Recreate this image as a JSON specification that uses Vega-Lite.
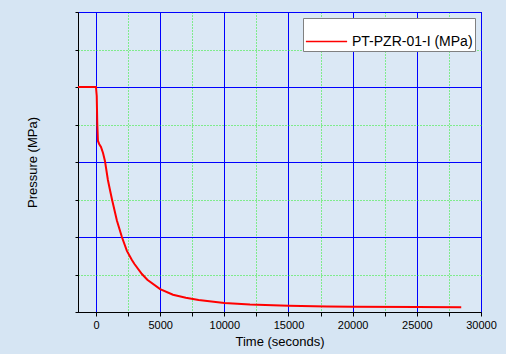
{
  "$schema": "https://vega.github.io/schema/vega-lite/v6.json",
  "width": 403,
  "height": 300,
  "autosize": {"type": "none"},
  "padding": {"left": 78, "top": 12, "right": 25, "bottom": 42},
  "background": "#d6e5f3",
  "config": {
    "view": {"fill": "#dbe8f5", "stroke": "#000000", "strokeWidth": 1},
    "font": "Liberation Sans"
  },
  "data": {
    "values": [
      {"t": -1400, "p": 15.0},
      {"t": 0, "p": 15.0},
      {"t": 60, "p": 14.4},
      {"t": 100, "p": 12.6},
      {"t": 155, "p": 11.4},
      {"t": 250, "p": 11.2},
      {"t": 390, "p": 11.0},
      {"t": 550, "p": 10.6},
      {"t": 700, "p": 10.07},
      {"t": 930, "p": 8.8},
      {"t": 1100, "p": 8.1},
      {"t": 1250, "p": 7.5},
      {"t": 1630, "p": 6.1},
      {"t": 2020, "p": 5.0},
      {"t": 2410, "p": 4.07},
      {"t": 2800, "p": 3.47},
      {"t": 3000, "p": 3.2},
      {"t": 3580, "p": 2.53},
      {"t": 4000, "p": 2.15},
      {"t": 5000, "p": 1.53},
      {"t": 6000, "p": 1.15},
      {"t": 7000, "p": 0.95},
      {"t": 8000, "p": 0.8},
      {"t": 10000, "p": 0.6},
      {"t": 12000, "p": 0.5},
      {"t": 15000, "p": 0.41},
      {"t": 18000, "p": 0.37},
      {"t": 20000, "p": 0.35},
      {"t": 25000, "p": 0.33},
      {"t": 28460, "p": 0.32}
    ]
  },
  "mark": {"type": "line", "strokeWidth": 2, "interpolate": "linear"},
  "encoding": {
    "x": {
      "field": "t",
      "type": "quantitative",
      "scale": {"domain": [-1400, 30000], "nice": false, "zero": false},
      "axis": {
        "title": "Time (seconds)",
        "titleFontSize": 13,
        "titleFontWeight": "normal",
        "titleColor": "#000000",
        "titlePadding": 5,
        "values": [0, 2500, 5000, 7500, 10000, 12500, 15000, 17500, 20000, 22500, 25000, 27500, 30000],
        "format": "d",
        "labelExpr": "datum.value % 5000 === 0 ? datum.label : ''",
        "labelFontSize": 11,
        "labelColor": "#000000",
        "labelPadding": 3,
        "labelFlush": false,
        "domainColor": "#000000",
        "tickColor": "#000000",
        "tickSize": 4,
        "grid": true,
        "gridColor": {"condition": {"test": "datum.value % 5000 === 0", "value": "#0000ff"}, "value": "#22ee22"},
        "gridDash": {"condition": {"test": "datum.value % 5000 === 0", "value": []}, "value": [1, 2]},
        "gridOpacity": 1,
        "gridWidth": 1
      }
    },
    "y": {
      "field": "p",
      "type": "quantitative",
      "scale": {"domain": [0, 20], "nice": false},
      "axis": {
        "title": "Pressure (MPa)",
        "titleFontSize": 13,
        "titleFontWeight": "normal",
        "titleColor": "#000000",
        "titlePadding": 35,
        "values": [0, 2.5, 5, 7.5, 10, 12.5, 15, 17.5, 20],
        "labels": false,
        "domainColor": "#000000",
        "tickColor": "#000000",
        "tickSize": 3,
        "grid": true,
        "gridColor": {"condition": {"test": "datum.value % 5 === 0", "value": "#0000ff"}, "value": "#22ee22"},
        "gridDash": {"condition": {"test": "datum.value % 5 === 0", "value": []}, "value": [1, 2]},
        "gridOpacity": 1,
        "gridWidth": 1
      }
    },
    "color": {
      "datum": "PT-PZR-01-I (MPa)",
      "type": "nominal",
      "scale": {"range": ["#ff0000"]},
      "legend": {
        "title": null,
        "orient": "top-right",
        "offset": 6,
        "fillColor": "#ffffff",
        "strokeColor": "#808080",
        "padding": 2,
        "symbolType": "stroke",
        "symbolSize": 1700,
        "symbolStrokeWidth": 1.5,
        "labelFontSize": 14,
        "labelColor": "#000000",
        "labelOffset": 4
      }
    }
  }
}
